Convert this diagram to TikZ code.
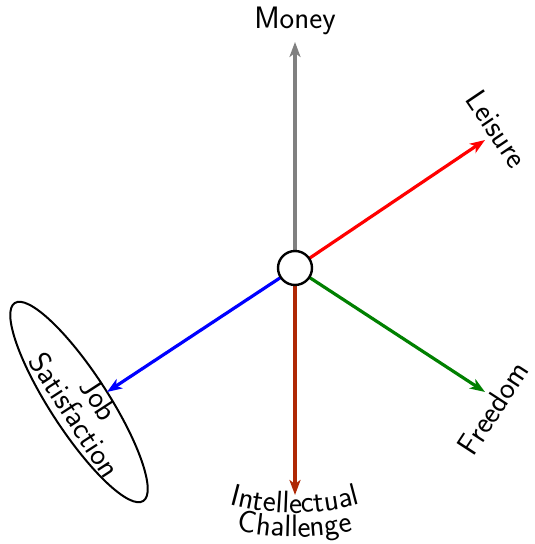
\documentclass[tikz,border=0pt]{standalone}
\usetikzlibrary{arrows.meta,decorations.text}
\definecolor{icred}{RGB}{175,40,5}
\definecolor{fgreen}{RGB}{0,128,0}
\tikzset{
  lbl/.style={font=\sffamily\fontsize{31}{34}\selectfont, inner sep=0pt, align=center},
  spoke/.style={line width=3.2pt, -{Stealth[length=15pt,width=11pt,inset=4pt]}},
  hub/.style={circle, draw, line width=2.4pt, fill=white, minimum size=34pt, inner sep=0pt}
}
\begin{document}
\begin{tikzpicture}[x=1pt,y=1pt]
\useasboundingbox (0,0) rectangle (535,544);
\coordinate (mtip) at (295,502);
\coordinate (ltip) at (485,404);
\coordinate (ftip) at (485,152);
\coordinate (itip) at (295,49);
\coordinate (jtip) at (107,152);
\coordinate (jc) at (79,142);
\draw[rotate around={-57:(jc)}, line width=2pt] (jc) ellipse [x radius=118, y radius=29];
\draw[spoke, gray] (295,276) -- (mtip);
\draw[spoke, red] (295,276) -- (ltip);
\draw[spoke, fgreen] (295,276) -- (ftip);
\draw[spoke, icred] (295,276) -- (itip);
\draw[spoke, blue] (295,276) -- (jtip);
\node[hub] (c) at (295,276) {};
\node[lbl, anchor=base] (money) at (295,515) {Money};
\node[lbl, rotate=-56] (leisure) at (497,415) {Leisure};
\node[lbl, rotate=57] (freedom) at (493,136) {Freedom};
\node[lbl, rotate=-57, font=\sffamily\fontsize{31}{29}\selectfont] (job) at (87,137) {Job\\Satisfaction};
\path[decorate, decoration={text along path, text align=center,
  text={|\sffamily\fontsize{31}{34}\selectfont|Intellectual}}]
  (c.center) ++(240:245) arc[start angle=240, end angle=300, radius=245];
\path[decorate, decoration={text along path, text align=center,
  text={|\sffamily\fontsize{31}{34}\selectfont|Challenge}}]
  (c.center) ++(240:269) arc[start angle=240, end angle=300, radius=269];
\end{tikzpicture}
\end{document}
